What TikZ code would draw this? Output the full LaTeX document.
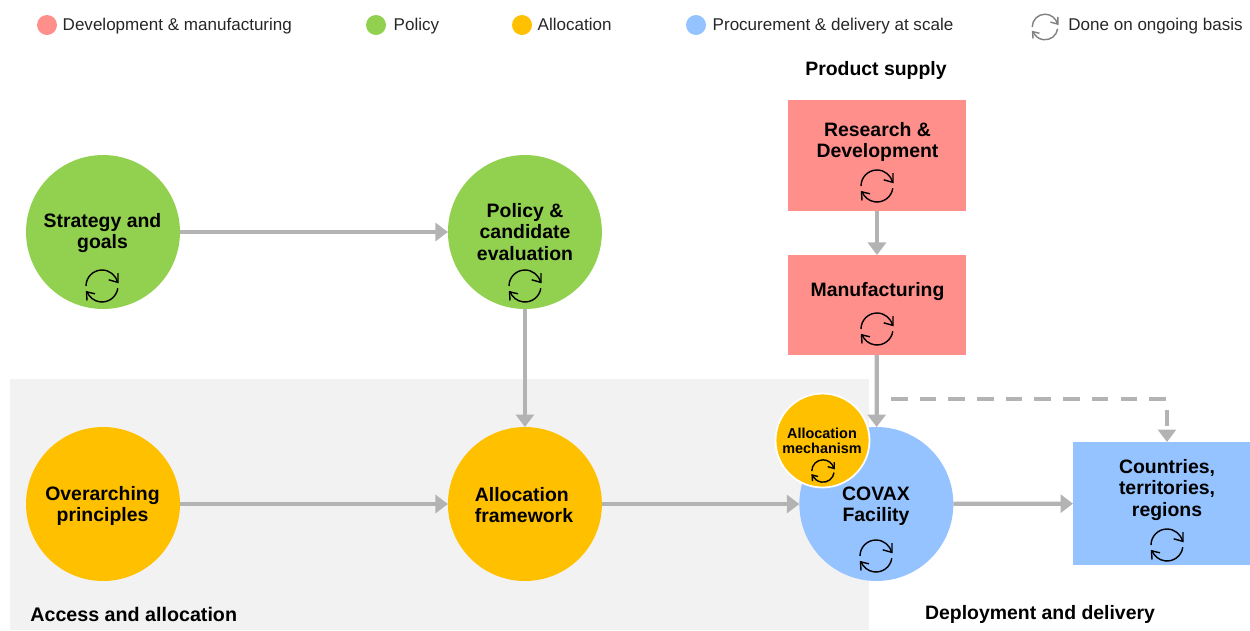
\documentclass[tikz,border=0pt]{standalone}
\usepackage{fontspec}
\setmainfont{Liberation Sans}
\usetikzlibrary{arrows.meta,positioning}

\definecolor{devred}{HTML}{FF8F8B}
\definecolor{polgreen}{HTML}{92D050}
\definecolor{allocorange}{HTML}{FFC000}
\definecolor{procblue}{HTML}{94C3FF}
\definecolor{flowgray}{HTML}{B3B3B3}
\definecolor{bandgray}{HTML}{F2F2F2}
\definecolor{legendtxt}{HTML}{262626}

\tikzset{
	stage/.style={circle, fill=#1, minimum size=3.08cm, inner sep=0pt, outer sep=0pt},
	block/.style={rectangle, fill=#1, inner sep=0pt, outer sep=0pt},
	dot/.style={circle, fill=#1, minimum size=0.4cm, inner sep=0pt},
	title/.style={align=center, font=\fontsize{11.05}{12.2}\selectfont\bfseries, inner sep=0pt},
	legend/.style={anchor=west, font=\fontsize{9.7}{11}\selectfont, text=legendtxt, inner sep=0pt, text height=8.8pt, text depth=2pt},
	flow/.style={draw=flowgray, line width=0.085cm, -{Triangle[length=0.25cm, width=0.36cm]}},
	renew/.pic={
		\draw[line width=0.8pt, pic actions] (-16,0) arc[start angle=-180, end angle=-13, radius=16];
		\draw[line width=0.8pt, pic actions] (6.7,-6.2) -- (16,-3.6) -- (16,-12.8);
		\draw[line width=0.8pt, pic actions] (15.8,2.2) arc[start angle=8, end angle=160, radius=16];
		\draw[line width=0.8pt, pic actions] (-7,7.8) -- (-15.5,5.8) -- (-15,14.5);
	}
}

\begin{document}
\begin{tikzpicture}[x=0.02cm, y=-0.02cm]
	\useasboundingbox (0,0) rectangle (1250,630);
	\node[rectangle, fill=bandgray, minimum width=17.18cm, minimum height=5.02cm, inner sep=0pt, anchor=north west] (band) at (10,379) {};

	% legend
	\node[dot=devred] (dotdev) at (47,25) {};
	\node[legend, right=0.1cm of dotdev] (txtdev) {Development \& manufacturing};
	\node[dot=polgreen] (dotpol) at (376,25) {};
	\node[legend, right=0.14cm of dotpol] (txtpol) {Policy};
	\node[dot=allocorange] (dotalloc) at (522,25) {};
	\node[legend, right=0.1cm of dotalloc] (txtalloc) {Allocation};
	\node[dot=procblue] (dotproc) at (696,25) {};
	\node[legend, right=0.12cm of dotproc] (txtproc) {Procurement \& delivery at scale};
	\pic[draw=gray, scale=0.8] at (1045,27) {renew};
	\node[legend] (txtrenew) at (1068,25) {Done on ongoing basis};

	% stages
	\node[stage=polgreen] (strategy) at (103,232) {};
	\node[stage=polgreen, right=5.36cm of strategy] (policy) {};
	\node[stage=allocorange] (principles) at (103,504) {};
	\node[stage=allocorange, right=5.36cm of principles] (framework) {};
	\node[stage=procblue, right=3.95cm of framework] (covax) {};
	\node[block=devred, minimum width=3.56cm, minimum height=2.22cm] (research) at (877,155.5) {};
	\node[block=devred, minimum width=3.56cm, minimum height=2cm, below=0.88cm of research] (manufacturing) {};
	\node[block=procblue, minimum width=3.54cm, minimum height=2.46cm, anchor=north west] (countries) at (1073,442) {};
	\node[circle, fill=allocorange, draw=white, line width=1pt, minimum size=1.88cm, inner sep=0pt] (mechanism) at (822.5,440.5) {};

	% labels
	\node[title] (txtstrategy) at (102.5,233) {Strategy and\\goals};
	\node[title] (txtpolicy) at (525,232) {Policy \&\\candidate\\evaluation};
	\node[title] (txtprinciples) at (102.5,506) {Overarching\\principles};
	\node[title, align=left] (txtframework) at (524,505) {Allocation\\framework};
	\node[title] (txtcovax) at (876,506) {COVAX\\Facility};
	\node[title] (txtresearch) at (877.5,142) {Research \&\\Development};
	\node[title] (txtmanufacturing) at (877.5,292) {Manufacturing};
	\node[title] (txtcountries) at (1167,490) {Countries,\\territories,\\regions};
	\node[title, font=\fontsize{8.2}{8.6}\selectfont\bfseries] (txtmechanism) at (822,441) {Allocation\\mechanism};

	\node[title] (headsupply) at (876,70) {Product supply};
	\node[title, anchor=west, font=\fontsize{11.2}{12.2}\selectfont\bfseries] (headaccess) at (30,614) {Access and allocation};
	\node[title] (headdelivery) at (1040,614) {Deployment and delivery};

	% renewal icons
	\pic at (102,286) {renew};
	\pic at (525,286) {renew};
	\pic at (877,186) {renew};
	\pic at (877,329) {renew};
	\pic at (876,556) {renew};
	\pic at (1167,545) {renew};
	\pic[scale=0.7] at (823,471) {renew};

	% connectors
	\draw[flow] (strategy) -- (policy);
	\draw[flow] (policy) -- (framework);
	\draw[flow] (principles) -- (framework);
	\draw[flow] (framework) -- (covax);
	\draw[flow] (research) -- (manufacturing);
	\draw[flow] (manufacturing) -- (covax);
	\draw[flow] (covax) -- (countries);
	\coordinate (dashstart) at (891,399);
	\draw[flow, dash pattern=on 0.33cm off 0.244cm] (dashstart) -| ([xshift=0.11cm]countries.north);
\end{tikzpicture}
\end{document}
